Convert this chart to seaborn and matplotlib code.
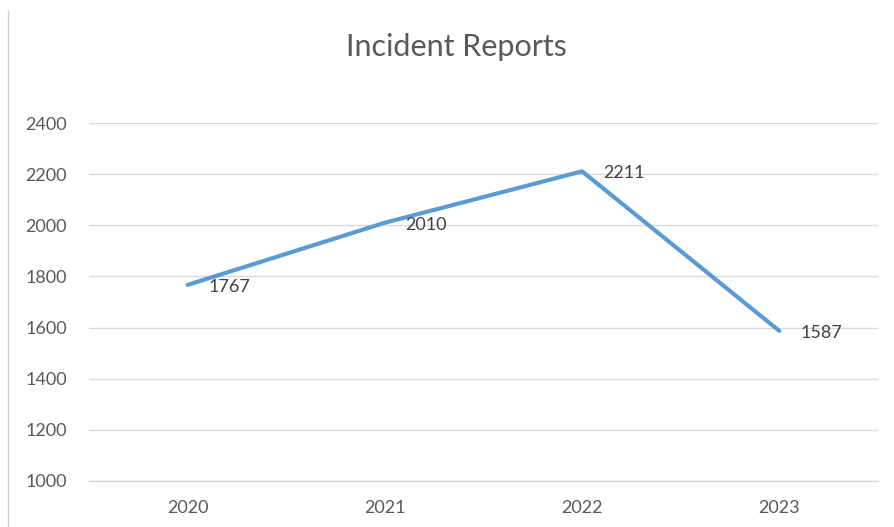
import matplotlib
matplotlib.use("Agg")
import matplotlib.pyplot as plt
import seaborn as sns
import pandas as pd
from matplotlib.lines import Line2D

# datos del grafico
anios = ["2020", "2021", "2022", "2023"]
incidentes = [1767, 2010, 2211, 1587]
ticks_y = [1000, 1200, 1400, 1600, 1800, 2000, 2200, 2400]

df = pd.DataFrame({"Anio": anios, "Incidentes": incidentes})

sns.set_theme(style="white")
plt.rcParams["font.family"] = ["Lato", "DejaVu Sans"]

gris_texto = "#595959"
azul = "#5B9BD5"

fig = plt.figure(figsize=(8.94, 5.27), dpi=100)
ax = fig.add_axes([0.0996, 0.0873, 0.8824, 0.6793])

sns.lineplot(data=df, x="Anio", y="Incidentes", sort=False, color=azul,
             linewidth=3, ax=ax, solid_capstyle="round")

# etiquetas de datos
for i, v in enumerate(incidentes):
    ax.annotate(str(v), (i, v), xytext=(15, -1.5), textcoords="offset points",
                ha="left", va="center", fontsize=13, color="#404040")

ax.set_xlim(-0.5, 3.5)
ax.set_ylim(1000, 2400)
ax.set_yticks(ticks_y)
ax.yaxis.grid(True, color="#D9D9D9", linewidth=1)
ax.xaxis.grid(False)
for lado in ["top", "right", "left"]:
    ax.spines[lado].set_visible(False)
ax.spines["bottom"].set_color("#D9D9D9")
ax.spines["bottom"].set_linewidth(1)
ax.tick_params(axis="both", length=0, labelsize=13, labelcolor=gris_texto)
ax.tick_params(axis="y", pad=16)
ax.tick_params(axis="x", pad=14)
ax.set_xlabel("")
ax.set_ylabel("")

fig.text(0.511, 0.91, "Incident Reports", ha="center", va="center",
         fontsize=22, color=gris_texto)

# borde izquierdo del recuadro
fig.add_artist(Line2D([8 / 894, 8 / 894], [0, 1 - 10 / 527],
                      transform=fig.transFigure, color="#D0D0D0", linewidth=1))

plt.savefig("out.png", dpi=100)
